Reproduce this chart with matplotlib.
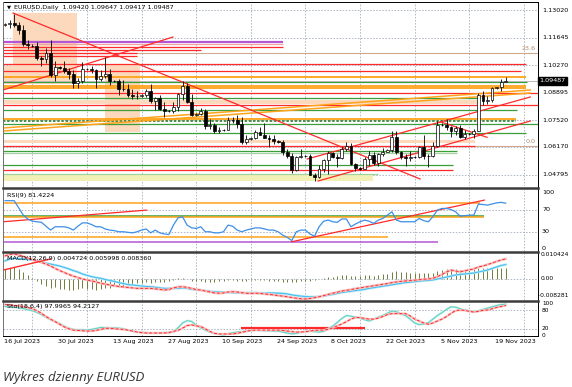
import matplotlib
matplotlib.use("Agg")
import matplotlib.pyplot as plt
from matplotlib.lines import Line2D
from matplotlib.patches import Rectangle
import numpy as np

W, H = 572, 387

# ---------------- data ----------------
opens = [1.1228, 1.1232, 1.1238, 1.1228, 1.1200, 1.1130, 1.1124, 1.1122, 1.1064, 1.1057,
         1.1085, 1.0975, 1.1015, 1.1010, 1.0998, 1.0984, 1.0937, 1.0948, 1.1008, 1.1005,
         1.1003, 1.0955, 1.0973, 1.0980, 1.0948, 1.0945, 1.0905, 1.0908, 1.0875, 1.0872,
         1.0870, 1.0875, 1.0895, 1.0845, 1.0862, 1.0808, 1.0795, 1.0797, 1.0818, 1.0880,
         1.0922, 1.0843, 1.0775, 1.0780, 1.0795, 1.0722, 1.0727, 1.0697, 1.0700, 1.0702,
         1.0750, 1.0752, 1.0733, 1.0642, 1.0657, 1.0660, 1.0690, 1.0678, 1.0662, 1.0658,
         1.0645, 1.0643, 1.0590, 1.0570, 1.0500, 1.0565, 1.0573, 1.0570, 1.0478, 1.0468,
         1.0505, 1.0550, 1.0589, 1.0565, 1.0563, 1.0605, 1.0620, 1.0530, 1.0510, 1.0508,
         1.0555, 1.0577, 1.0535, 1.0580, 1.0594, 1.0600, 1.0668, 1.0590, 1.0565, 1.0564,
         1.0565, 1.0567, 1.0615, 1.0574, 1.0570, 1.0620, 1.0728, 1.0725, 1.0718, 1.0698,
         1.0710, 1.0668, 1.0684, 1.0682, 1.0698, 1.0878, 1.0848, 1.0852, 1.0912, 1.0915,
         1.09420]
highs = [1.1236, 1.1250, 1.1280, 1.1240, 1.1225, 1.1150, 1.1130, 1.1140, 1.1070, 1.1110,
         1.1150, 1.1045, 1.1020, 1.1045, 1.1010, 1.1000, 1.0960, 1.1043, 1.1012, 1.1020,
         1.1005, 1.1000, 1.1065, 1.1005, 1.0952, 1.0955, 1.0950, 1.0930, 1.0905, 1.0895,
         1.0880, 1.0905, 1.0930, 1.0865, 1.0875, 1.0840, 1.0800, 1.0840, 1.0885, 1.0945,
         1.0935, 1.0880, 1.0785, 1.0810, 1.0805, 1.0755, 1.0735, 1.0715, 1.0705, 1.0765,
         1.0768, 1.0775, 1.0768, 1.0675, 1.0665, 1.0700, 1.0718, 1.0737, 1.0675, 1.0675,
         1.0650, 1.0650, 1.0605, 1.0585, 1.0570, 1.0608, 1.0578, 1.0580, 1.0485, 1.0525,
         1.0555, 1.0595, 1.0592, 1.0580, 1.0615, 1.0640, 1.0635, 1.0535, 1.0515, 1.0565,
         1.0595, 1.0590, 1.0585, 1.0610, 1.0605, 1.0695, 1.0695, 1.0595, 1.0580, 1.0595,
         1.0570, 1.0620, 1.0675, 1.0580, 1.0640, 1.0748, 1.0735, 1.0756, 1.0722, 1.0720,
         1.0725, 1.0700, 1.0688, 1.0705, 1.0888, 1.0895, 1.0872, 1.0917, 1.0918, 1.0955,
         1.09647]
lows = [1.1222, 1.1212, 1.1215, 1.1180, 1.1120, 1.1105, 1.1118, 1.1050, 1.1020, 1.1035,
        1.0965, 1.0945, 1.1005, 1.0985, 1.0955, 1.0912, 1.0912, 1.0937, 1.1000, 1.0985,
        1.0913, 1.0945, 1.0962, 1.0928, 1.0940, 1.0878, 1.0895, 1.0865, 1.0855, 1.0855,
        1.0865, 1.0865, 1.0835, 1.0802, 1.0800, 1.0765, 1.0790, 1.0785, 1.0795, 1.0850,
        1.0835, 1.0770, 1.0770, 1.0775, 1.0705, 1.0705, 1.0685, 1.0687, 1.0695, 1.0700,
        1.0735, 1.0712, 1.0630, 1.0632, 1.0652, 1.0655, 1.0675, 1.0660, 1.0615, 1.0630,
        1.0638, 1.0575, 1.0560, 1.0488, 1.0495, 1.0560, 1.0565, 1.0475, 1.0448, 1.0460,
        1.0490, 1.0482, 1.0560, 1.0515, 1.0555, 1.0595, 1.0525, 1.0495, 1.0502, 1.0505,
        1.0525, 1.0525, 1.0520, 1.0570, 1.0590, 1.0590, 1.0580, 1.0555, 1.0523, 1.0545,
        1.0560, 1.0560, 1.0555, 1.0516, 1.0568, 1.0615, 1.0720, 1.0700, 1.0668, 1.0675,
        1.0660, 1.0655, 1.0678, 1.0660, 1.0695, 1.0828, 1.0830, 1.0840, 1.0905, 1.0895,
        1.09417]
closes = [1.1232, 1.1238, 1.1228, 1.1200, 1.1130, 1.1125, 1.1122, 1.1064, 1.1057, 1.1085,
          1.0975, 1.1015, 1.1010, 1.0998, 1.0984, 1.0937, 1.0948, 1.1008, 1.1005, 1.1003,
          1.0955, 1.0973, 1.0980, 1.0948, 1.0945, 1.0905, 1.0908, 1.0875, 1.0872, 1.0870,
          1.0875, 1.0895, 1.0845, 1.0862, 1.0808, 1.0795, 1.0797, 1.0818, 1.0880, 1.0922,
          1.0843, 1.0775, 1.0780, 1.0795, 1.0722, 1.0727, 1.0697, 1.0700, 1.0702, 1.0750,
          1.0752, 1.0733, 1.0642, 1.0657, 1.0660, 1.0690, 1.0678, 1.0662, 1.0658, 1.0645,
          1.0643, 1.0590, 1.0570, 1.0500, 1.0565, 1.0573, 1.0570, 1.0478, 1.0468, 1.0505,
          1.0550, 1.0589, 1.0565, 1.0563, 1.0605, 1.0620, 1.0530, 1.0510, 1.0508, 1.0555,
          1.0577, 1.0535, 1.0580, 1.0594, 1.0600, 1.0668, 1.0590, 1.0565, 1.0564, 1.0565,
          1.0567, 1.0615, 1.0574, 1.0570, 1.0620, 1.0728, 1.0725, 1.0718, 1.0698, 1.0710,
          1.0668, 1.0684, 1.0682, 1.0698, 1.0878, 1.0848, 1.0852, 1.0912, 1.0915, 1.0942,
          1.09487]

rsi = [86, 86, 86, 73, 60, 53, 49, 48, 47, 40, 33, 39, 39, 39, 37, 33, 40, 46, 46, 43,
       39, 39, 35, 33, 32, 30, 30, 29, 28, 30, 33, 35, 28, 33, 28, 26, 25, 42, 55, 57,
       42, 37, 36, 39, 30, 30, 28, 28, 30, 42, 40, 33, 30, 33, 35, 37, 37, 35, 33, 33,
       30, 24, 20, 14, 30, 33, 33, 26, 22, 39, 49, 51, 48, 47, 53, 53, 39, 44, 48, 51,
       49, 45, 51, 54, 60, 66, 51, 48, 48, 48, 48, 54, 50, 48, 57, 69, 72, 72, 70, 66,
       58, 59, 60, 60, 80, 79, 78, 80, 82, 83, 81.4224]

macd_hist = [0.0040, 0.0045, 0.0048, 0.0042, 0.0030, 0.0018, 0.0005, -0.0010, -0.0020, -0.0028,
             -0.0038, -0.0035, -0.0040, -0.0042, -0.0045, -0.0046, -0.0040, -0.0038, -0.0040, -0.0042,
             -0.0044, -0.0040, -0.0038, -0.0036, -0.0030, -0.0032, -0.0028, -0.0025, -0.0022, -0.0018,
             -0.0015, -0.0014, -0.0016, -0.0012, -0.0013, -0.0014, -0.0010, -0.0005, 0.0003, 0.0005,
             -0.0002, -0.0008, -0.0010, -0.0008, -0.0012, -0.0013, -0.0012, -0.0010, -0.0008, -0.0003,
             -0.0004, -0.0007, -0.0009, -0.0008, -0.0006, -0.0005, -0.0005, -0.0006, -0.0007, -0.0008,
             -0.0009, -0.0011, -0.0012, -0.0014, -0.0012, -0.0010, -0.0009, -0.0008, -0.0006, -0.0002,
             0.0004, 0.0008, 0.0010, 0.0011, 0.0015, 0.0017, 0.0012, 0.0012, 0.0013, 0.0015,
             0.0016, 0.0014, 0.0017, 0.0019, 0.0022, 0.0030, 0.0034, 0.0030, 0.0028, 0.0027,
             0.0026, 0.0027, 0.0026, 0.0024, 0.0026, 0.0035, 0.0038, 0.0040, 0.0042, 0.0040,
             0.0038, 0.0038, 0.0039, 0.0040, 0.0045, 0.0045, 0.0044, 0.0045, 0.0046, 0.0047,
             0.004724]
macd_blue = [0.0075, 0.0083, 0.0086, 0.0085, 0.0083, 0.0081, 0.0079, 0.0075, 0.0071, 0.0066,
             0.0062, 0.0058, 0.0054, 0.0048, 0.0042, 0.0035, 0.0029, 0.0021, 0.0015, 0.0010,
             0.0006, 0.0003, -0.0002, -0.0006, -0.0010, -0.0015, -0.0019, -0.0023, -0.0025, -0.0027,
             -0.0029, -0.0031, -0.0032, -0.0034, -0.0037, -0.0039, -0.0039, -0.0039, -0.0039, -0.0037,
             -0.0039, -0.0043, -0.0045, -0.0046, -0.0049, -0.0051, -0.0053, -0.0054, -0.0055, -0.0056,
             -0.0057, -0.0057, -0.0058, -0.0058, -0.0057, -0.0057, -0.0058, -0.0059, -0.0058, -0.0058,
             -0.0059, -0.0060, -0.0062, -0.0066, -0.0069, -0.0071, -0.0073, -0.0074, -0.0074, -0.0073,
             -0.0071, -0.0067, -0.0064, -0.0060, -0.0056, -0.0053, -0.0051, -0.0048, -0.0046, -0.0043,
             -0.0039, -0.0036, -0.0033, -0.0030, -0.0027, -0.0024, -0.0021, -0.0018, -0.0015, -0.0013,
             -0.0011, -0.0009, -0.0007, -0.0006, -0.0004, 0.0000, 0.0004, 0.0008, 0.0012, 0.0017,
             0.0019, 0.0021, 0.0023, 0.0025, 0.0029, 0.0033, 0.0037, 0.0044, 0.0050, 0.0056,
             0.005998]
macd_red = [0.0096, 0.0102, 0.0104, 0.0100, 0.0094, 0.0087, 0.0081, 0.0075, 0.0069, 0.0062,
            0.0054, 0.0044, 0.0035, 0.0027, 0.0019, 0.0012, 0.0006, 0.0000, -0.0004, -0.0008,
            -0.0012, -0.0018, -0.0021, -0.0025, -0.0028, -0.0031, -0.0033, -0.0035, -0.0037, -0.0039,
            -0.0039, -0.0039, -0.0039, -0.0041, -0.0043, -0.0046, -0.0044, -0.0037, -0.0033, -0.0032,
            -0.0035, -0.0039, -0.0044, -0.0046, -0.0050, -0.0054, -0.0058, -0.0059, -0.0058, -0.0054,
            -0.0053, -0.0054, -0.0057, -0.0059, -0.0060, -0.0059, -0.0060, -0.0062, -0.0064, -0.0066,
            -0.0069, -0.0071, -0.0074, -0.0077, -0.0080, -0.0082, -0.0083, -0.0081, -0.0078, -0.0074,
            -0.0069, -0.0064, -0.0059, -0.0055, -0.0050, -0.0047, -0.0044, -0.0040, -0.0037, -0.0034,
            -0.0031, -0.0028, -0.0025, -0.0022, -0.0019, -0.0015, -0.0012, -0.0010, -0.0008, -0.0007,
            -0.0005, -0.0003, -0.0001, 0.0000, 0.0003, 0.0010, 0.0019, 0.0029, 0.0037, 0.0033,
            0.0030, 0.0034, 0.0038, 0.0042, 0.0050, 0.0054, 0.0060, 0.0066, 0.0073, 0.0079,
            0.00836]

sto_main = [91, 90, 89, 87, 85, 81, 78, 73, 66, 58, 50, 45, 38, 30, 24, 20, 19, 19, 18, 20,
            23, 26, 26, 25, 25, 24, 22, 18, 15, 12, 11, 10, 9, 9, 9, 10, 11, 12, 25, 40,
            47, 45, 33, 25, 18, 12, 8, 5, 3, 6, 10, 12, 13, 15, 17, 18, 17, 16, 16, 15,
            15, 12, 9, 6, 8, 11, 13, 15, 13, 12, 14, 22, 30, 42, 54, 63, 61, 58, 55, 50,
            46, 52, 58, 63, 70, 77, 75, 68, 63, 52, 40, 35, 37, 41, 52, 63, 72, 82, 90, 89,
            84, 80, 78, 75, 78, 82, 86, 90, 94, 97, 97.9965]
sto_signal = [97, 96, 94, 93, 91, 88, 84, 78, 70, 60, 52, 44, 36, 28, 22, 18, 17, 16, 15, 15,
              17, 20, 23, 24, 22, 21, 20, 18, 15, 12, 10, 9, 9, 9, 9, 9, 10, 14, 17, 24,
              32, 34, 31, 29, 22, 14, 8, 6, 6, 6, 6, 8, 11, 14, 17, 18, 18, 18, 18, 18,
              18, 17, 15, 13, 12, 12, 13, 15, 17, 18, 18, 20, 25, 31, 37, 44, 52, 57, 57, 54,
              52, 52, 55, 60, 66, 69, 69, 69, 69, 62, 52, 46, 40, 36, 40, 46, 52, 60, 70, 78,
              80, 79, 76, 74, 76, 79, 80, 84, 88, 91, 94.2127]

date_labels = ["16 Jul 2023", "30 Jul 2023", "13 Aug 2023", "27 Aug 2023", "10 Sep 2023",
               "24 Sep 2023", "8 Oct 2023", "22 Oct 2023", "5 Nov 2023", "19 Nov 2023"]
date_bars = [0, 12, 24, 36, 48, 60, 72, 84, 96, 108]
grid_bars = [6, 18, 30, 42, 54, 66, 78, 90, 102, 114]
price_ticks = [1.13020, 1.11645, 1.10270, 1.08895, 1.07520, 1.06170, 1.04795]
last_price = 1.09487

# horizontal levels on the price panel: price, last bar it reaches, kind
level_prices = [1.11435, 1.11320, 1.11155, 1.11020, 1.10855, 1.10720, 1.10320, 1.09985,
                1.09685, 1.09435, 1.09220, 1.09105, 1.08885, 1.08605, 1.08270, 1.08020,
                1.07555, 1.07495, 1.07320, 1.06870, 1.06235, 1.05985, 1.05885, 1.05270,
                1.05020, 1.04820]
level_ends = [61, 61, 61, 43, 29, 29, 114.5, 113.4, 114.5, 114.7, 114.5, 114.5, 117.2, 104.4,
              117.2, 112.5, 112.3, 112.3, 117.2, 114.4, 103.3, 99.3, 99.3, 98.5, 98.5, 82]
level_kinds = ["purple", "pink", "red", "red", "red", "red", "red", "red",
               "orange", "green", "orange", "orange", "red", "green", "red", "green",
               "orange", "dkgreen", "green", "green", "red", "green", "ltgreen", "green",
               "red", "ltgreen"]
fib_levels = [1.10870, 1.06235]
fib_names = ["23.6", "0.0"]

# shaded zones: x0, x1, p_low, p_high
zone_x0 = [1.8, -0.45, 22.0, -0.45, -0.45, -0.45]
zone_x1 = [15.8, 15.8, 29.7, 104.4, 103.3, 80.9]
zone_lo = [1.1022, 1.0932, 1.0692, 1.0832, 1.06375, 1.04465]
zone_hi = [1.1288, 1.1022, 1.1027, 1.0852, 1.0652, 1.0477]
zone_kind = ["peach", "peach", "peach", "peach", "peach", "yellow"]

# trend lines: (x0, p0, x1, p1)
trend_red = [(1.76, 1.1287, 91.2, 1.0457), (-0.44, 1.0902, 36.9, 1.1167),
             (66.4, 1.0557, 115.4, 1.0867), (68.8, 1.0447, 115.4, 1.0747),
             (95.6, 1.07435, 105.9, 1.06655)]
trend_orange = [(-0.44, 1.0712, 115.4, 1.0902), (-0.44, 1.0697, 115.4, 1.0887)]

rsi_level_vals = [81, 58, 57, 21, 11]
rsi_level_ends = [104.4, 105.3, 105.3, 84.2, 95.2]
rsi_level_kinds = ["orange", "green", "orange", "orange", "purple"]
rsi_trends = [(-0.44, 48, 31.1, 69), (63, 12, 105.3, 87)]

COL = {"red": "#ff2a2a", "pink": "#f4a0a0", "orange": "#ffa31a", "green": "#3a9e3a",
       "dkgreen": "#2f7d2f", "ltgreen": "#9fd49f", "purple": "#b357d6",
       "peach": "#fcd8bc", "yellow": "#f3f0b6", "grid": "#9aa5b5", "fib": "#d0a890"}
LW = {"purple": 1.6, "orange": 1.3, "dkgreen": 1.2}

FS = 4.6
x = np.arange(len(closes))


def add_panel(top, bottom):
    ax = fig.add_axes([3 / W, 1 - bottom / H, 535 / W, (bottom - top) / H])
    ax.set_xlim(-0.45, 117.1)
    ax.set_xticks([])
    ax.set_yticks([])
    for s in ax.spines.values():
        s.set_visible(False)
    for g in grid_bars:
        ax.axvline(g, color=COL["grid"], lw=0.55, ls=(0, (2, 2)), zorder=0.5)
    return ax


def right_label(ax, y, txt, dx=0.0075, fs=FS):
    ax.text(1 + dx, y, txt, transform=ax.get_yaxis_transform(), fontsize=fs,
            va="center", ha="left", clip_on=False)


fig = plt.figure(figsize=(W / 100, H / 100), dpi=100)
fig.patch.set_facecolor("white")

# ---------------- price panel ----------------
ax = add_panel(2, 186)
ax.set_ylim(1.1352 - 0.0005 * 186, 1.1352 - 0.0005 * 2)
for p in price_ticks:
    ax.axhline(p, color=COL["grid"], lw=0.55, ls=(0, (2, 2)), zorder=0.5)
    right_label(ax, p, f"{p:.5f}")

for x0, x1, lo, hi, k in zip(zone_x0, zone_x1, zone_lo, zone_hi, zone_kind):
    ax.add_patch(Rectangle((x0, lo), x1 - x0, hi - lo, color=COL[k], lw=0, zorder=0.8))

for p, e, k in zip(level_prices, level_ends, level_kinds):
    ls = (0, (1.5, 1)) if k == "dkgreen" else "-"
    ax.hlines(p, -0.45, e, colors=COL[k], lw=LW.get(k, 0.9), ls=ls, zorder=1.5)

for p, name in zip(fib_levels, fib_names):
    ax.axhline(p, color=COL["fib"], lw=0.8, zorder=1.4)
    ax.text(116.6, p + 0.0009, name, fontsize=FS, color="#b08a70", ha="right", va="bottom")

ax.axhline(last_price, color="#b0b0b0", lw=0.6, zorder=1.6)

for x0, p0, x1, p1 in trend_orange:
    ax.plot([x0, x1], [p0, p1], color=COL["orange"], lw=1.1, zorder=2)
for x0, p0, x1, p1 in trend_red:
    ax.plot([x0, x1], [p0, p1], color=COL["red"], lw=0.9, zorder=2.2)

o = np.array(opens)
c = np.array(closes)
ax.vlines(x, lows, highs, color="black", lw=0.6, zorder=3)
bull = c >= o
body_lo = np.minimum(o, c)
body_h = np.maximum(np.abs(c - o), 0.00005)
ax.bar(x[bull], body_h[bull], 0.62, bottom=body_lo[bull], facecolor="white",
       edgecolor="black", lw=0.5, zorder=3.2)
ax.bar(x[~bull], body_h[~bull], 0.62, bottom=body_lo[~bull], facecolor="black",
       edgecolor="black", lw=0.5, zorder=3.2)

ax.text(0.007, 0.985, "\u25bc", transform=ax.transAxes, fontsize=3.8, va="top", ha="left")
ax.text(0.02, 0.985, "EURUSD,Daily  1.09420 1.09647 1.09417 1.09487",
        transform=ax.transAxes, fontsize=FS, va="top", ha="left")
ax.text(1.003, last_price, "1.09487", transform=ax.get_yaxis_transform(), fontsize=FS,
        color="white", va="center", ha="left", clip_on=False,
        bbox=dict(boxstyle="square,pad=0.25", fc="black", ec="black"))

# ---------------- RSI panel ----------------
ar = add_panel(189, 251)
ar.set_ylim((248.4 - 251) / 0.555, (248.4 - 189) / 0.555)
for lv in (70, 30):
    ar.axhline(lv, color=COL["grid"], lw=0.55, ls=(0, (2, 2)), zorder=0.5)
for v, e, k in zip(rsi_level_vals, rsi_level_ends, rsi_level_kinds):
    ar.hlines(v, -0.45, e, colors=COL[k], lw=1.1, zorder=1.5)
for x0, v0, x1, v1 in rsi_trends:
    ar.plot([x0, x1], [v0, v1], color=COL["red"], lw=0.9, zorder=2)
ar.plot(x, rsi, color="#3d8fe6", lw=0.9, zorder=3)
ar.text(0.007, 0.94, "RSI(9) 81.4224", transform=ar.transAxes, fontsize=FS, va="top")
for lv in (100, 70, 30, 0):
    right_label(ar, lv, str(lv))

# ---------------- MACD panel ----------------
am = add_panel(253, 300)
am.set_ylim((279 - 300) / 2406, (279 - 253) / 2406)
am.axhline(0, color=COL["grid"], lw=0.55, ls=(0, (2, 2)), zorder=0.5)
am.vlines(x, 0, macd_hist, color="#6f7f3c", lw=0.7, zorder=2)
am.plot(x, macd_blue, color="#bfe9f8", lw=1.8, zorder=2.5)
am.plot(x, macd_blue, color="#45c0ef", lw=0.8, zorder=2.6)
am.plot(x, macd_red, color="#f8c0c0", lw=1.8, zorder=2.7)
am.plot(x, macd_red, color="#ff2a2a", lw=0.7, ls=(0, (3, 2)), zorder=2.8)
am.plot([-0.44, 9.9], [0.0037, 0.0083], color=COL["red"], lw=1.0, zorder=2.9)
am.text(0.007, 0.94, "MACD(12,26,9) 0.004724 0.005998 0.008360", transform=am.transAxes,
        fontsize=FS, va="top")
right_label(am, 0.0101, "0.010424", dx=0.004, fs=4.3)
right_label(am, 0.0, "0.00", dx=0.004, fs=4.3)
right_label(am, -0.0069, "-0.008281", dx=0.002, fs=4.3)

# ---------------- Stochastic panel ----------------
ast = add_panel(302, 336)
ast.set_ylim((335.9 - 336) / 0.323, (335.9 - 302) / 0.323)
for lv in (80, 20):
    ast.axhline(lv, color=COL["grid"], lw=0.55, ls=(0, (2, 2)), zorder=0.5)
ast.hlines(23.5, 51.9, 79.1, colors=COL["red"], lw=1.6, zorder=1.5)
ast.plot(x, sto_main, color="#c6eee8", lw=1.6, zorder=2)
ast.plot(x, sto_main, color="#5ccfc0", lw=0.7, zorder=2.1)
ast.plot(x, sto_signal, color="#f8c0c0", lw=1.6, zorder=2.2)
ast.plot(x, sto_signal, color="#ff2a2a", lw=0.7, ls=(0, (3, 2)), zorder=2.3)
ast.text(0.007, 0.93, "Sto(18,6,4) 97.9965 94.2127", transform=ast.transAxes,
         fontsize=FS, va="top")
right_label(ast, 100, "100", fs=4.2)
right_label(ast, 78, "80", fs=4.2)
right_label(ast, 23, "20", fs=4.2)
right_label(ast, 2, "0", fs=4.2)

for b, lab in zip(date_bars, date_labels):
    ast.text(b - 0.3, -0.08, lab, transform=ast.get_xaxis_transform(), fontsize=FS,
             ha="left", va="top", clip_on=False)

# ---------------- frame and separators ----------------
def fline(x0, y0, x1, y1, lw, col):
    fig.add_artist(Line2D([x0 / W, x1 / W], [1 - y0 / H, 1 - y1 / H], lw=lw, color=col))

fline(3, 2, 538, 2, 0.7, "black")
fline(3, 2, 3, 336, 0.7, "#707070")
fline(538, 2, 538, 336, 0.7, "black")
fline(3, 336, 538, 336, 0.7, "black")
for ys in (187.5, 252, 301):
    fline(3, ys, 538, ys, 1.8, "#3c3c3c")

fig.text(3 / W, 1 - 377 / H, "Wykres dzienny EURUSD", fontsize=9.5, style="italic",
         family="Open Sans", color="#333333", va="center", ha="left")

fig.savefig("out.png", dpi=100)
